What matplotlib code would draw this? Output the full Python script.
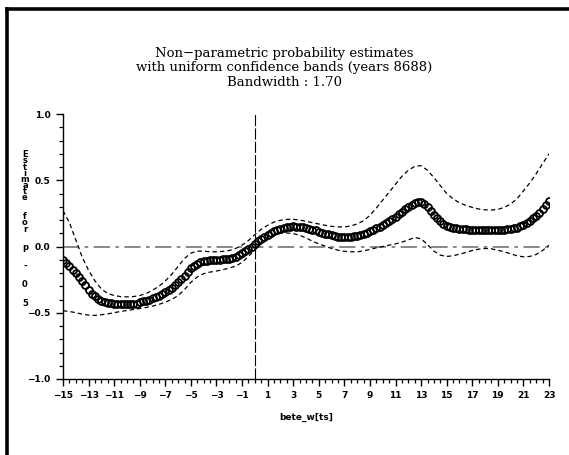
import numpy as np
import matplotlib
matplotlib.use("Agg")
import matplotlib.pyplot as plt
from matplotlib.lines import Line2D
from matplotlib.ticker import MultipleLocator

# ---------------- data ----------------
x_start, x_end = -15, 23
estimate = [
    -0.100, -0.125, -0.150, -0.175,
    -0.200, -0.230, -0.260, -0.290,
    -0.330, -0.355, -0.375, -0.395,
    -0.410, -0.420, -0.425, -0.430,
    -0.432, -0.434, -0.435, -0.435,
    -0.435, -0.434, -0.433, -0.432,
    -0.420, -0.415, -0.410, -0.400,
    -0.390, -0.380, -0.370, -0.360,
    -0.345, -0.330, -0.310, -0.290,
    -0.270, -0.245, -0.220, -0.190,
    -0.165, -0.145, -0.130, -0.120,
    -0.113, -0.108, -0.105, -0.103,
    -0.100, -0.099, -0.098, -0.096,
    -0.093, -0.088, -0.078, -0.065,
    -0.050, -0.035, -0.018, 0.000,
    0.020, 0.040, 0.060, 0.075,
    0.090, 0.105, 0.117, 0.127,
    0.135, 0.142, 0.147, 0.150,
    0.151, 0.150, 0.148, 0.145,
    0.140, 0.134, 0.128, 0.121,
    0.113, 0.105, 0.098, 0.091,
    0.085, 0.079, 0.075, 0.072,
    0.071, 0.071, 0.073, 0.076,
    0.081, 0.087, 0.095, 0.104,
    0.114, 0.126, 0.138, 0.150,
    0.163, 0.177, 0.192, 0.208,
    0.225, 0.243, 0.262, 0.281,
    0.299, 0.316, 0.330, 0.338,
    0.336, 0.322, 0.298, 0.270,
    0.240, 0.213, 0.190, 0.172,
    0.158, 0.148, 0.141, 0.136,
    0.133, 0.131, 0.129, 0.128,
    0.127, 0.126, 0.126, 0.125,
    0.125, 0.125, 0.125, 0.125,
    0.126, 0.127, 0.128, 0.130,
    0.133, 0.137, 0.143, 0.151,
    0.162, 0.176, 0.193, 0.212,
    0.232, 0.255, 0.280, 0.310,
    0.345,
]

upper_band = [
    0.270, 0.180, 0.050, -0.080, -0.180, -0.260, -0.320, -0.355,
    -0.370, -0.378, -0.380, -0.378, -0.370, -0.355, -0.330, -0.300,
    -0.260, -0.210, -0.150, -0.090, -0.050, -0.035, -0.035, -0.040,
    -0.040, -0.037, -0.030, -0.015, 0.010, 0.045, 0.090, 0.130,
    0.160, 0.185, 0.198, 0.205, 0.205, 0.200, 0.190, 0.180,
    0.170, 0.160, 0.152, 0.148, 0.148, 0.155, 0.170, 0.195,
    0.235, 0.290, 0.350, 0.410, 0.470, 0.530, 0.575, 0.605,
    0.610, 0.575, 0.520, 0.460, 0.400, 0.360, 0.330, 0.310,
    0.295, 0.283, 0.277, 0.275, 0.280, 0.295, 0.320, 0.360,
    0.420, 0.480, 0.550, 0.625, 0.700,
]
lower_band = [
    -0.485, -0.490, -0.500, -0.510, -0.518, -0.520, -0.515, -0.508,
    -0.500, -0.490, -0.483, -0.476, -0.468, -0.460, -0.450, -0.437,
    -0.420, -0.400, -0.370, -0.325, -0.270, -0.230, -0.205, -0.193,
    -0.185, -0.175, -0.163, -0.148, -0.120, -0.075, -0.025, 0.025,
    0.065, 0.090, 0.100, 0.102, 0.098, 0.085, 0.065, 0.040,
    0.020, 0.003, -0.015, -0.028, -0.036, -0.040, -0.040, -0.033,
    -0.022, -0.010, 0.000, 0.010, 0.020, 0.033, 0.050, 0.068,
    0.058, 0.015, -0.035, -0.065, -0.075, -0.070, -0.058, -0.045,
    -0.030, -0.020, -0.015, -0.018, -0.028, -0.040, -0.055, -0.070,
    -0.078, -0.075, -0.060, -0.030, 0.010,
]

x_ticks = list(range(-15, 24, 2))
y_ticks = [-1.0, -0.5, 0.0, 0.5, 1.0]
title_lines = ["Non\u2212parametric probability estimates",
               "with uniform confidence bands (years 8688)",
               "Bandwidth : 1.70"]
x_label = "bete_w[ts]"
y_label = "Estimate for p - 0 5"

x_est = np.linspace(x_start, x_end, len(estimate))
x_band = np.linspace(x_start, x_end, len(upper_band))

# ---------------- figure ----------------
W, H = 569, 455
fig = plt.figure(figsize=(W / 100, H / 100), dpi=100)
fig.patch.set_facecolor("white")

# frame: top and left thick lines
fig.add_artist(Line2D([6.5 / W, 1.0], [1 - 8.5 / H, 1 - 8.5 / H],
                      transform=fig.transFigure, color="black", lw=2.6))
fig.add_artist(Line2D([6.5 / W, 6.5 / W], [0.0, 1 - 8.5 / H],
                      transform=fig.transFigure, color="black", lw=2.6))

ax_left, ax_right, ax_top, ax_bot = 63, 549, 114, 379
ax = fig.add_axes([ax_left / W, 1 - ax_bot / H,
                   (ax_right - ax_left) / W, (ax_bot - ax_top) / H])
ax.set_xlim(x_start, x_end)
ax.set_ylim(-1.0, 1.0)
for s in ["top", "right"]:
    ax.spines[s].set_visible(False)
for s in ["left", "bottom"]:
    ax.spines[s].set_linewidth(1.0)

ax.axhline(0, color="#7f7f7f", lw=1.3, dashes=(9, 3, 2, 3), zorder=1)
ax.axvline(0, color="black", lw=0.8, dashes=(10, 2), zorder=1)

ax.plot(x_band, upper_band, color="black", lw=0.9, dashes=(3.5, 2.5))
ax.plot(x_band, lower_band, color="black", lw=0.9, dashes=(3.5, 2.5))
ax.plot(x_est, estimate, linestyle="none", marker="o", markersize=5.0,
        markerfacecolor="none", markeredgecolor="black", markeredgewidth=1.3)

tick_font = dict(family=["DejaVu Sans"], weight="bold", size=6.5)
ax.set_xticks(x_ticks)
ax.set_xticklabels([f"{t:d}".replace("-", "\u2212") for t in x_ticks], **tick_font)
ax.xaxis.set_minor_locator(MultipleLocator(0.5))
ax.set_yticks(y_ticks)
ax.set_yticklabels([f"{t:.1f}".replace("-", "\u2212") for t in y_ticks], **tick_font)
ax.yaxis.set_minor_locator(MultipleLocator(0.1))
ax.tick_params(which="major", direction="out", length=5, width=1.0, pad=4)
ax.tick_params(which="minor", direction="out", length=3, width=0.9)

ax.set_xlabel(x_label, fontsize=6.5, fontweight="bold",
              family="DejaVu Sans", labelpad=9)

# title
for i, line in enumerate(title_lines):
    fig.text(0.5, 1 - (53 + 15 * i) / H, line, ha="center", va="center",
             family="DejaVu Serif", fontsize=9.5)

# stacked y label (one text object, letters on separate lines; a space
# becomes two empty lines)
stacked = "\n".join("\n" if ch == " " else ch for ch in y_label)
fig.text(25 / W, 1 - 229 / H, stacked, ha="center", va="center",
         multialignment="center", family="DejaVu Sans", fontweight="bold",
         fontsize=6, linespacing=0.6)

fig.savefig("out.png", dpi=100)
